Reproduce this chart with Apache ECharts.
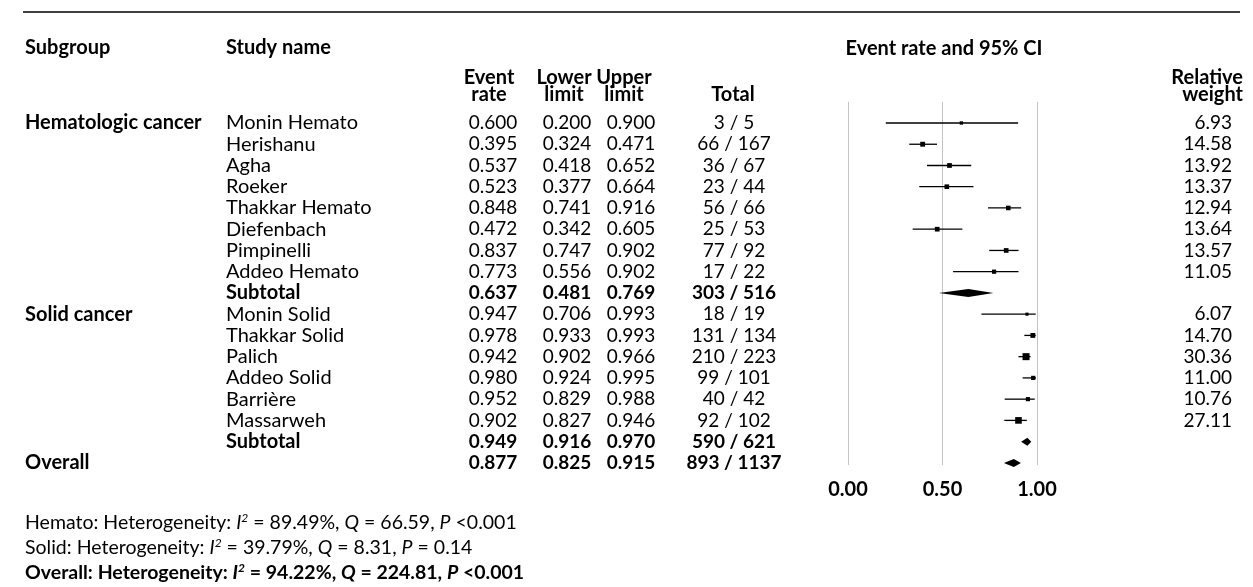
<!DOCTYPE html>
<html>
<head>
<meta charset="utf-8">
<title>Event rate forest plot</title>
<script src="https://cdn.jsdelivr.net/npm/echarts@6/dist/echarts.min.js"></script>
<style>
html, body { margin: 0; padding: 0; background: #fff; }
#chart { width: 1253px; height: 587px; }
</style>
</head>
<body>
<div id="chart"></div>
<script>
// table rows, top to bottom
const subgroups = ['Hematologic cancer', '', '', '', '', '', '', '', '', 'Solid cancer', '', '', '', '', '', '', 'Overall'];
const studyNames = ['Monin Hemato', 'Herishanu', 'Agha', 'Roeker', 'Thakkar Hemato', 'Diefenbach', 'Pimpinelli', 'Addeo Hemato', 'Subtotal',
  'Monin Solid', 'Thakkar Solid', 'Palich', 'Addeo Solid', 'Barrière', 'Massarweh', 'Subtotal', ''];
const eventRate = [0.600, 0.395, 0.537, 0.523, 0.848, 0.472, 0.837, 0.773, 0.637, 0.947, 0.978, 0.942, 0.980, 0.952, 0.902, 0.949, 0.877];
const lowerLimit = [0.200, 0.324, 0.418, 0.377, 0.741, 0.342, 0.747, 0.556, 0.481, 0.706, 0.933, 0.902, 0.924, 0.829, 0.827, 0.916, 0.825];
const upperLimit = [0.900, 0.471, 0.652, 0.664, 0.916, 0.605, 0.902, 0.902, 0.769, 0.993, 0.993, 0.966, 0.995, 0.988, 0.946, 0.970, 0.915];
const totals = ['3 / 5', '66 / 167', '36 / 67', '23 / 44', '56 / 66', '25 / 53', '77 / 92', '17 / 22', '303 / 516',
  '18 / 19', '131 / 134', '210 / 223', '99 / 101', '40 / 42', '92 / 102', '590 / 621', '893 / 1137'];
const weights = [6.93, 14.58, 13.92, 13.37, 12.94, 13.64, 13.57, 11.05, null, 6.07, 14.70, 30.36, 11.00, 10.76, 27.11, null, null];
const summaryRows = [8, 15, 16];
const xTicks = [0, 0.5, 1];

const FONT = 'Lato, "Open Sans", sans-serif';
const FS = 20;      // words
const FS_NUM = 19;  // numbers

// column positions of the table (px)
const colSubgroup = 25, colStudy = 226, colRate = 493, colLower = 567, colUpper = 631, colTotal = 734, colWeight = 1232;

const studyData = [], summaryData = [], tableData = [];
eventRate.forEach((v, i) => {
  tableData.push([i, 0]);
  if (summaryRows.includes(i)) summaryData.push([i, v, lowerLimit[i], upperLimit[i]]);
  else studyData.push([i, v, lowerLimit[i], upperLimit[i], weights[i]]);
});

function txt(x, y, text, align, bold, size) {
  const t = {
    type: 'text',
    style: {
      x: x, y: y, text: text, align: align, verticalAlign: 'middle',
      fontFamily: FONT, fontSize: size || FS, fontWeight: bold ? 'bold' : 'normal', fill: '#000'
    }
  };
  if (text.indexOf('\n') >= 0) t.style.lineHeight = 17;
  return t;
}

function renderTable(params, api) {
  const i = api.value(0);
  const y = api.coord([0, i])[1];
  const b = summaryRows.includes(i);
  const fmt = v => v.toFixed(3);
  return {
    type: 'group',
    children: [
      txt(colSubgroup, y, subgroups[i], 'left', true),
      txt(colStudy, y, studyNames[i], 'left', b),
      txt(colRate, y, fmt(eventRate[i]), 'center', b, FS_NUM),
      txt(colLower, y, fmt(lowerLimit[i]), 'center', b, FS_NUM),
      txt(colUpper, y, fmt(upperLimit[i]), 'center', b, FS_NUM),
      txt(colTotal, y, totals[i], 'center', b, FS_NUM),
      txt(colWeight, y, weights[i] == null ? '' : weights[i].toFixed(2), 'right', false, FS_NUM)
    ]
  };
}

function renderStudy(params, api) {
  const i = api.value(0);
  const p = api.coord([api.value(1), i]);
  const lo = api.coord([api.value(2), i]);
  const hi = api.coord([api.value(3), i]);
  const s = 1.27 * Math.sqrt(api.value(4));
  return {
    type: 'group',
    children: [
      { type: 'line', shape: { x1: lo[0], y1: lo[1], x2: hi[0], y2: hi[1] }, style: { stroke: '#000', lineWidth: 1.3 } },
      { type: 'rect', shape: { x: p[0] - s / 2, y: p[1] - s / 2, width: s, height: s }, style: { fill: '#000' } }
    ]
  };
}

function renderDiamond(params, api) {
  const i = api.value(0);
  const p = api.coord([api.value(1), i]);
  const lo = api.coord([api.value(2), i]);
  const hi = api.coord([api.value(3), i]);
  const h = 4;
  return {
    type: 'polygon',
    shape: { points: [[lo[0], p[1]], [p[0], p[1] - h], [hi[0], p[1]], [p[0], p[1] + h]] },
    style: { fill: '#000' }
  };
}

// footnotes with italic letters and superscript 2
const NOTE_FS = 19.5;
function note(y, text, bold) {
  const w = bold ? 'bold' : 'normal';
  return {
    type: 'text', left: 25, top: y,
    style: {
      text: text, fontFamily: FONT, fontSize: NOTE_FS, fontWeight: w, fill: '#000', lineHeight: 22,
      rich: {
        i: { fontStyle: 'italic', fontWeight: w, fontFamily: FONT, fontSize: NOTE_FS, lineHeight: 22 },
        s: { fontStyle: 'italic', fontWeight: w, fontFamily: FONT, fontSize: 12, verticalAlign: 'top', lineHeight: 16 }
      }
    }
  };
}

const chart = echarts.init(document.getElementById('chart'));
chart.setOption({
  animation: false,
  grid: { left: 848, right: 216, top: 101.75, bottom: 122 },
  xAxis: {
    type: 'value', min: 0, max: 1, interval: 0.5,
    axisLine: { show: false }, axisTick: { show: false },
    splitLine: { show: true, lineStyle: { color: '#c4c4c4', width: 1 } },
    axisLabel: {
      margin: 15, color: '#000', fontFamily: FONT, fontSize: FS, fontWeight: 'bold',
      formatter: v => xTicks.includes(v) ? v.toFixed(2) : ''
    }
  },
  yAxis: { type: 'value', inverse: true, min: -1, max: 16.1, show: false },
  graphic: [
    { type: 'line', shape: { x1: 23, y1: 12, x2: 1240, y2: 12 }, style: { stroke: '#000', lineWidth: 1.5 } },
    txt(25, 48, 'Subgroup', 'left', true),
    txt(226, 48, 'Study name', 'left', true),
    txt(944, 49, 'Event rate and 95% CI', 'center', true),
    txt(489, 86, 'Event\nrate', 'center', true),
    txt(564, 86, 'Lower\nlimit', 'center', true),
    txt(624, 86, 'Upper\nlimit', 'center', true),
    txt(733, 95, 'Total', 'center', true),
    txt(1243, 86, 'Relative\nweight', 'right', true),
    note(512, 'Hemato: Heterogeneity: {i|I}{s|2} = 89.49%, {i|Q} = 66.59, {i|P} <0.001', false),
    note(537, 'Solid: Heterogeneity: {i|I}{s|2} = 39.79%, {i|Q} = 8.31, {i|P} = 0.14', false),
    note(562, 'Overall: Heterogeneity: {i|I}{s|2} = 94.22%, {i|Q} = 224.81, {i|P} <0.001', true)
  ],
  series: [
    { type: 'custom', renderItem: renderTable, data: tableData, encode: { x: 1, y: 0 }, clip: false, silent: true },
    { type: 'custom', renderItem: renderStudy, data: studyData, encode: { x: [1, 2, 3], y: 0 }, clip: false, silent: true },
    { type: 'custom', renderItem: renderDiamond, data: summaryData, encode: { x: [1, 2, 3], y: 0 }, clip: false, silent: true }
  ]
});
</script>
</body>
</html>
